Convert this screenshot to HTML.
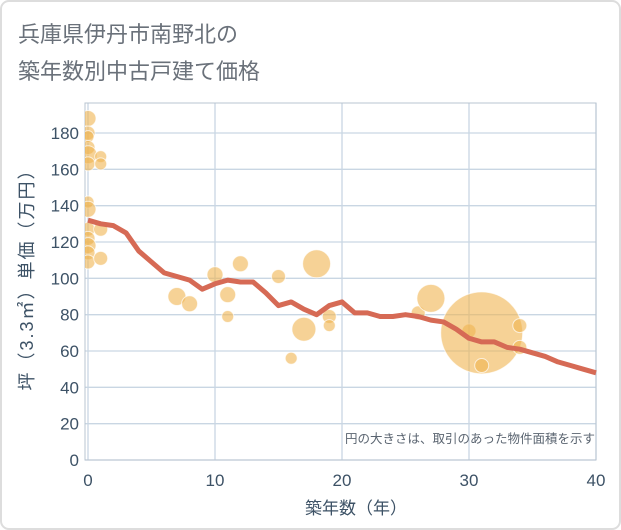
<!DOCTYPE html>
<html><head><meta charset="utf-8"><style>
html,body{margin:0;padding:0;background:#fff;}
svg{display:block;font-family:"Liberation Sans","Noto Sans CJK JP",sans-serif;}
</style></head><body>
<svg id="c" width="621" height="530" viewBox="0 0 621 530">
<defs><clipPath id="pc"><rect x="85" y="103" width="511" height="357"/></clipPath></defs>
<rect x="1" y="1" width="619" height="528" rx="8" fill="#fff" stroke="#dddddd" stroke-width="2"/>
<text x="18" y="42" font-size="22" fill="#6a717a">兵庫県伊丹市南野北の</text>
<text x="18" y="79" font-size="22" fill="#6a717a">築年数別中古戸建て価格</text>
<g id="grid"></g>
<g id="bubbles" clip-path="url(#pc)"></g>
<g id="line"></g>
<g id="axes"></g>
<text x="595" y="443" font-size="12.5" fill="#5a6470" text-anchor="end">円の大きさは、取引のあった物件面積を示す</text>
<text x="356" y="514" font-size="17" fill="#3d5266" text-anchor="middle">築年数（年）</text>
<text transform="translate(33,275) rotate(-90)" font-size="18" letter-spacing="2" fill="#3d5266" text-anchor="middle">坪（3.3㎡）単価（万円）</text>
</svg>
<script>
const xTicks=[0,10,20,30,40];
const yTicks=[0,20,40,60,80,100,120,140,160,180];
const lineYears=[0,1,2,3,4,5,6,7,8,9,10,11,12,13,14,15,16,17,18,19,20,21,22,23,24,25,26,27,28,29,30,31,32,33,34,35,36,37,38,39,40];
const lineValues=[132,130,129,125,115,109,103,101,99,94,97,99,98,98,92,85,87,83,80,85,87,81,81,79,79,80,79,77,76,72,67,65,65,62,61,59,57,54,52,50,48];
const bubbleX=[0,0,0,0,0,0,0,0,0,0,0,0,0,1,1,1,1,7,8,10,11,11,12,15,16,17,18,19,19,26,27,30,31,31,34,34];
const bubbleY=[188,180,178,172,168,163,142,138,127,122,118,114,109,167,163,127,111,90,86,102,91,79,108,101,56,72,108,79,74,81,89,71,70,52,74,62];
const bubbleSize=[8,7,6,7,9,7,6,8,7,7,8,7,7,6,6,7,7,9,8,8,8,6,8,7,6,12,14,7,6,7,14,7,41,7,7,7];
const X0=88,X1=596,Y0=460,Y1=133;
const sx=v=>X0+(X1-X0)*v/40;
const sy=v=>Y0-(Y0-Y1)*v/180;
const NS='http://www.w3.org/2000/svg';
function mk(tag,attrs,parent){const e=document.createElementNS(NS,tag);for(const k in attrs)e.setAttribute(k,attrs[k]);parent.appendChild(e);return e;}
const grid=document.getElementById('grid'),axes=document.getElementById('axes');
const L=85,R=596,T=103;
yTicks.forEach(t=>{
 const g=mk('line',{x1:L,x2:R,y1:sy(t),y2:sy(t),stroke:'#c9d6e3','stroke-width':1.3},grid);
 
 
 const tx=mk('text',{x:79,y:sy(t)+6,'font-size':17,fill:'#3d5266','text-anchor':'end'},axes);
 tx.textContent=t;
 
 
});
xTicks.forEach(t=>{
 const g=mk('line',{x1:sx(t),x2:sx(t),y1:T,y2:Y0,stroke:'#c9d6e3','stroke-width':1.3},grid);
 
 
 const tx=mk('text',{x:sx(t),y:486,'font-size':17,fill:'#3d5266','text-anchor':'middle'},axes);
 tx.textContent=t;
 
 
});
const fr=mk('rect',{x:L,y:T,width:R-L,height:Y0-T,fill:'none',stroke:'#b8c4d0','stroke-width':1},grid);


const bg=document.getElementById('bubbles');
bubbleX.forEach((v,i)=>{
 const c=mk('circle',{cx:sx(v),cy:sy(bubbleY[i]),r:bubbleSize[i],fill:'rgba(240,180,80,0.6)',stroke:'rgba(255,255,255,0.7)','stroke-width':1},bg);
 
 
});
const pts=lineYears.map((y,i)=>sx(y)+','+sy(lineValues[i])).join(' ');
const pl=mk('polyline',{points:pts,fill:'none',stroke:'#d66a55','stroke-width':5,'stroke-linejoin':'round'},document.getElementById('line'));


</script>
</body></html>
